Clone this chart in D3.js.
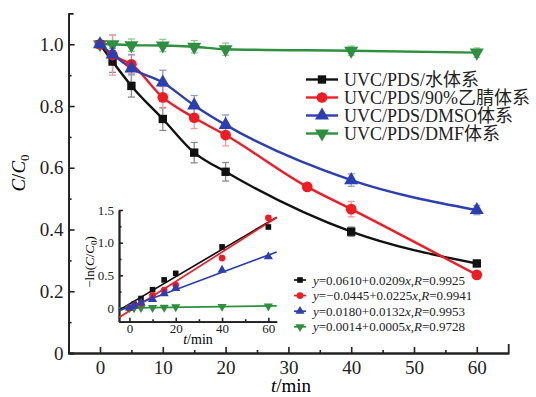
<!DOCTYPE html>
<html>
<head>
<meta charset="utf-8">
<script src="https://cdn.jsdelivr.net/npm/d3@7"></script>
<style>
  body { margin: 0; background: #fff; }
  svg text { font-family: "Liberation Serif", "Noto Sans CJK SC", serif; }
</style>
</head>
<body>
<div id="chart"></div>
<script>
// ---- data ----
const seriesNames = ['UVC/PDS/水体系', 'UVC/PDS/90%乙腈体系', 'UVC/PDS/DMSO体系', 'UVC/PDS/DMF体系'];
const seriesColors = ['#111111', '#ee1c25', '#2b3fb0', '#2e8f3e'];
const errColors = ['#8a8a8a', '#f29aa0', '#8f98d8', '#92c79a'];

const waterT = [0, 2, 5, 10, 15, 20, 40, 60];
const waterC = [1.0, 0.944, 0.865, 0.758, 0.649, 0.587, 0.393, 0.290];
const waterErr = [0, 0.035, 0.036, 0.037, 0.033, 0.03, 0.015, 0.01];

const acnT = [0, 2, 5, 10, 15, 20, 33, 40, 60];
const acnC = [1.0, 0.965, 0.935, 0.828, 0.762, 0.706, 0.538, 0.466, 0.253];
const acnErr = [0, 0.065, 0.03, 0.035, 0.035, 0.035, 0, 0.025, 0.01];

const dmsoT = [0, 2, 5, 10, 15, 20, 40, 60];
const dmsoC = [1.0, 0.967, 0.922, 0.876, 0.802, 0.739, 0.560, 0.463];
const dmsoErr = [0, 0.02, 0.045, 0.04, 0.032, 0.032, 0.02, 0.015];

const dmfT = [0, 2, 5, 10, 15, 20, 40, 60];
const dmfC = [1.0, 1.0, 0.997, 0.996, 0.992, 0.984, 0.979, 0.973];
const dmfErr = [0, 0.03, 0.02, 0.02, 0.02, 0.02, 0.015, 0.015];

// inset: -ln(C/C0) vs t
const insetT = [0, 2, 5, 10, 15, 20, 40, 60];
const waterLn = [0, 0.058, 0.145, 0.28, 0.43, 0.53, 0.935, 1.24];
const acnLn = [0, 0.035, 0.068, 0.19, 0.275, 0.35, 0.765, 1.38];
const dmsoLn = [0, 0.034, 0.08, 0.13, 0.22, 0.30, 0.58, 0.785];
const dmfLn = [0, 0, 0.003, 0.004, 0.008, 0.016, 0.021, 0.027];

const fitA = ['0.0610', '−0.0445', '0.0180', '0.0014'];
const fitB = ['0.0209', '0.0225', '0.0132', '0.0005'];
const fitR = ['0.9925', '0.9941', '0.9953', '0.9728'];

const mainTicksX = [0, 10, 20, 30, 40, 50, 60];
const mainTicksY = [0, 0.2, 0.4, 0.6, 0.8, 1.0];
const insetTicksX = [0, 20, 40, 60];
const insetTicksY = [0, 0.5, 1.0, 1.5];

const FONT = '"Liberation Serif", "Noto Sans CJK SC", serif';

const main = [
  { t: waterT, v: waterC, e: waterErr },
  { t: acnT, v: acnC, e: acnErr },
  { t: dmsoT, v: dmsoC, e: dmsoErr },
  { t: dmfT, v: dmfC, e: dmfErr }
];
const inset = [waterLn, acnLn, dmsoLn, dmfLn];
const drawOrder = [3, 0, 1, 2];

const symbolFor = i => [d3.symbolSquare, d3.symbolCircle, d3.symbolTriangle, d3.symbolTriangle][i];
const rotFor = i => i === 3 ? ' rotate(180)' : '';

const svg = d3.select('#chart').append('svg')
  .attr('width', 536)
  .attr('height', 397)
  .attr('font-family', FONT);

// ---- main scales ----
const x = d3.scaleLinear().domain([-5, 65]).range([68.6, 508.2]);
const y = d3.scaleLinear().domain([0, 1.1]).range([353, 13.4]);

function styleAxis(g, size) {
  g.attr('font-family', FONT).attr('font-size', size);
  g.select('.domain').attr('stroke', '#222').attr('stroke-width', 1.8);
  g.selectAll('.tick line').attr('stroke', '#222').attr('stroke-width', 1.6);
  g.selectAll('.tick text').attr('fill', '#222').attr('font-family', FONT).style('font-size', size + 'px');
}

// minor ticks
svg.append('g')
  .attr('transform', 'translate(0,353)')
  .call(d3.axisBottom(x).tickValues(d3.range(5, 65, 10)).tickSize(-3).tickSizeOuter(0).tickFormat(''))
  .call(g => styleAxis(g, 19));
svg.append('g')
  .attr('transform', 'translate(68.6,0)')
  .call(d3.axisLeft(y).tickValues([0.1, 0.3, 0.5, 0.7, 0.9]).tickSize(-3).tickSizeOuter(0).tickFormat(''))
  .call(g => styleAxis(g, 19));

// Add X axis
svg.append('g')
  .attr('transform', 'translate(0,353)')
  .call(d3.axisBottom(x).tickValues(mainTicksX).tickSize(-6).tickSizeOuter(-9).tickPadding(8).tickFormat(d3.format('d')))
  .call(g => styleAxis(g, 19));

// Add Y axis
svg.append('g')
  .attr('transform', 'translate(68.6,0)')
  .call(d3.axisLeft(y).tickValues(mainTicksY).tickSize(-6).tickSizeOuter(-5).tickPadding(5)
    .tickFormat(d => d === 0 ? '0' : d3.format('.1f')(d)))
  .call(g => styleAxis(g, 19));

// axis titles
svg.append('text')
  .attr('x', 291).attr('y', 392)
  .attr('text-anchor', 'middle')
  .style('font-size', '19px')
  .call(t => {
    t.append('tspan').attr('font-style', 'italic').text('t');
    t.append('tspan').text('/min');
  });

svg.append('text')
  .attr('transform', 'translate(25,173) rotate(-90)')
  .attr('text-anchor', 'middle')
  .style('font-size', '19px')
  .call(t => {
    t.append('tspan').attr('font-style', 'italic').text('C');
    t.append('tspan').text('/');
    t.append('tspan').attr('font-style', 'italic').text('C');
    t.append('tspan').attr('dy', 4).style('font-size', '13px').text('0');
  });

// ---- main series ----
const line = d3.line().x(d => x(d[0])).y(d => y(d[1])).curve(d3.curveMonotoneX);

// error bars
drawOrder.forEach(i => {
  const s = main[i];
  const pts = s.t.map((t, k) => ({ t, v: s.v[k], e: s.e[k] })).filter(d => d.e > 0);
  const g = svg.append('g').attr('stroke', errColors[i]).attr('stroke-width', 1.3);
  pts.forEach(d => {
    g.append('line').attr('x1', x(d.t)).attr('x2', x(d.t)).attr('y1', y(d.v - d.e)).attr('y2', y(d.v + d.e));
    g.append('line').attr('x1', x(d.t) - 3.5).attr('x2', x(d.t) + 3.5).attr('y1', y(d.v - d.e)).attr('y2', y(d.v - d.e));
    g.append('line').attr('x1', x(d.t) - 3.5).attr('x2', x(d.t) + 3.5).attr('y1', y(d.v + d.e)).attr('y2', y(d.v + d.e));
  });
});

// lines
drawOrder.forEach(i => {
  const s = main[i];
  svg.append('path')
    .datum(s.t.map((t, k) => [t, s.v[k]]))
    .attr('d', line)
    .attr('fill', 'none')
    .attr('stroke', seriesColors[i])
    .attr('stroke-width', 2.4);
});

// markers
const mainSize = [70, 90, 85, 85];
drawOrder.forEach(i => {
  const s = main[i];
  svg.append('g').selectAll('path')
    .data(s.t.map((t, k) => [t, s.v[k]]))
    .enter()
    .append('path')
    .attr('transform', d => `translate(${x(d[0])},${y(d[1])})${rotFor(i)}`)
    .attr('d', d3.symbol().type(symbolFor(i)).size(mainSize[i]))
    .attr('fill', seriesColors[i]);
});

// main legend
const leg = svg.append('g');
seriesNames.forEach((name, i) => {
  const ry = 79.5 + i * 18;
  leg.append('line').attr('x1', 306).attr('x2', 338).attr('y1', ry).attr('y2', ry)
    .attr('stroke', seriesColors[i]).attr('stroke-width', 2.4);
  leg.append('path')
    .attr('transform', `translate(322,${ry})${rotFor(i)}`)
    .attr('d', d3.symbol().type(symbolFor(i)).size(mainSize[i]))
    .attr('fill', seriesColors[i]);
  leg.append('text').attr('x', 344).attr('y', ry + 6.5)
    .style('font-size', '18px').attr('fill', '#222').text(name);
});

// ---- inset ----
const ix = d3.scaleLinear().domain([-4.5, 63.6]).range([119, 276.7]);
const iy = d3.scaleLinear().domain([-0.21, 1.5]).range([321.7, 210]);

svg.append('g')
  .attr('transform', 'translate(0,321.7)')
  .call(d3.axisBottom(ix).tickValues([10, 30, 50]).tickSize(-2.5).tickSizeOuter(0).tickFormat(''))
  .call(g => styleAxis(g, 13));
svg.append('g')
  .attr('transform', 'translate(119,0)')
  .call(d3.axisLeft(iy).tickValues([0.25, 0.75, 1.25]).tickSize(-2.5).tickSizeOuter(0).tickFormat(''))
  .call(g => styleAxis(g, 13));
svg.append('g')
  .attr('transform', 'translate(0,321.7)')
  .call(d3.axisBottom(ix).tickValues(insetTicksX).tickSize(-4).tickSizeOuter(0).tickPadding(2).tickFormat(d3.format('d')))
  .call(g => styleAxis(g, 13));
svg.append('g')
  .attr('transform', 'translate(119,0)')
  .call(d3.axisLeft(iy).tickValues(insetTicksY).tickSize(-4).tickSizeOuter(0).tickPadding(5)
    .tickFormat(d => d === 0 ? '0' : d3.format('.1f')(d)))
  .call(g => styleAxis(g, 13));

svg.append('text')
  .attr('x', 198).attr('y', 344)
  .attr('text-anchor', 'middle')
  .style('font-size', '14px')
  .call(t => {
    t.append('tspan').attr('font-style', 'italic').text('t');
    t.append('tspan').text('/min');
  });

svg.append('text')
  .attr('transform', 'translate(94,262) rotate(-90)')
  .attr('text-anchor', 'middle')
  .style('font-size', '13px')
  .call(t => {
    t.append('tspan').text('−ln(');
    t.append('tspan').attr('font-style', 'italic').text('C');
    t.append('tspan').text('/');
    t.append('tspan').attr('font-style', 'italic').text('C');
    t.append('tspan').attr('dy', 3).style('font-size', '9px').text('0');
    t.append('tspan').attr('dy', -3).text(')');
  });

// fit lines
const [x0, x1] = ix.domain();
drawOrder.forEach(i => {
  const a = +fitA[i].replace('−', '-');
  const b = +fitB[i];
  svg.append('line')
    .attr('x1', ix(x0)).attr('y1', iy(a + b * x0))
    .attr('x2', ix(x1)).attr('y2', iy(a + b * x1))
    .attr('stroke', seriesColors[i]).attr('stroke-width', 1.7);
});

// inset points
const insetSize = [32, 36, 36, 36];
drawOrder.forEach(i => {
  svg.append('g').selectAll('path')
    .data(insetT.map((t, k) => [t, inset[i][k]]))
    .enter()
    .append('path')
    .attr('transform', d => `translate(${ix(d[0])},${iy(d[1])})${rotFor(i)}`)
    .attr('d', d3.symbol().type(symbolFor(i)).size(insetSize[i]))
    .attr('fill', seriesColors[i]);
});

// inset legend
const ileg = svg.append('g');
fitA.forEach((a, i) => {
  const ry = 280 + i * 15.6;
  ileg.append('line').attr('x1', 294).attr('x2', 306).attr('y1', ry).attr('y2', ry)
    .attr('stroke', seriesColors[i]).attr('stroke-width', 1.7);
  ileg.append('path')
    .attr('transform', `translate(300,${ry})${rotFor(i)}`)
    .attr('d', d3.symbol().type(symbolFor(i)).size(insetSize[i]))
    .attr('fill', seriesColors[i]);
  const t = ileg.append('text').attr('x', 313).attr('y', ry + 4.5)
    .style('font-size', '13px').attr('fill', '#222');
  t.append('tspan').attr('font-style', 'italic').text('y');
  t.append('tspan').text(`=${a}+${fitB[i]}`);
  t.append('tspan').attr('font-style', 'italic').text('x');
  t.append('tspan').text(',');
  t.append('tspan').attr('font-style', 'italic').text('R');
  t.append('tspan').text(`=${fitR[i]}`);
});
</script>
</body>
</html>
